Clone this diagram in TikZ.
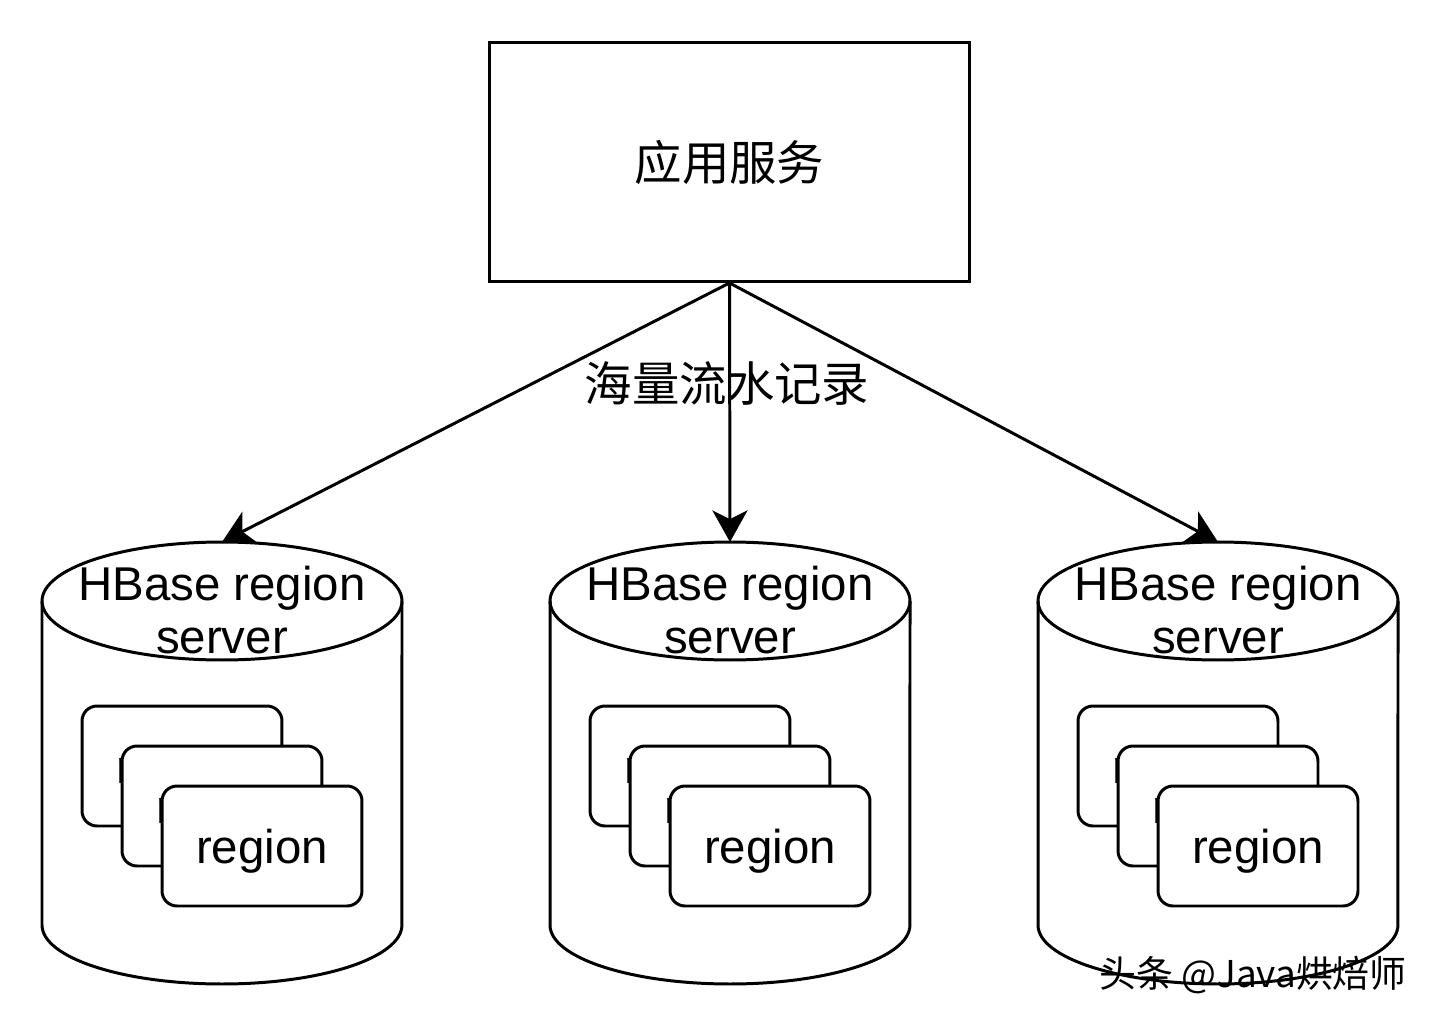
\documentclass[tikz,border=0pt]{standalone}
\usepackage{fontspec}
\setmainfont{Liberation Sans}
\newfontfamily\cjk{Noto Sans CJK SC}
\usetikzlibrary{arrows.meta}

\tikzset{
  bigtext/.style={font=\fontsize{27}{30}\selectfont},
  cjktext/.style={font=\cjk\fontsize{27}{30}\selectfont},
  regionbox/.style={draw,fill=white,rounded corners=0.3cm,minimum width=4cm,minimum height=2.4cm,text depth=0pt,bigtext},
  feed/.style={-{Stealth[length=18pt,width=20pt,inset=5pt]},line width=1.7pt}
}

\begin{document}
\begin{tikzpicture}[x=0.02cm,y=-0.02cm,line width=1.7pt]
\useasboundingbox (0,0) rectangle (1440,1024);

\node[draw,minimum width=9.6cm,minimum height=4.78cm,cjktext] (app) at (729.5,162) {应用服务};

\foreach \cx/\n in {222/1,730/2,1218/3}
{
\draw[fill=white] (\cx-180,601) -- (\cx-180,925) arc[start angle=180,end angle=360,x radius=3.6cm,y radius=1.18cm] -- (\cx+180,601);
\draw (\cx,601) ellipse [x radius=3.6cm,y radius=1.18cm];
\coordinate (top\n) at (\cx,542);
\node[align=center,bigtext] (rs\n) at (\cx,610) {HBase region\\server};
\foreach \k in {0,1,2}
  \node[regionbox] (reg\n\k) at (\cx-40+40*\k,766+40*\k) {region};
}

\foreach \n in {1,2,3}
  \draw[feed] (app.south) -- (top\n);

\node[cjktext] (lbl) at (727,383) {海量流水记录};

\node[font=\cjk\fontsize{21}{24}\selectfont] (mark) at (1253,975) {头条 @Java烘焙师};
\end{tikzpicture}
\end{document}
